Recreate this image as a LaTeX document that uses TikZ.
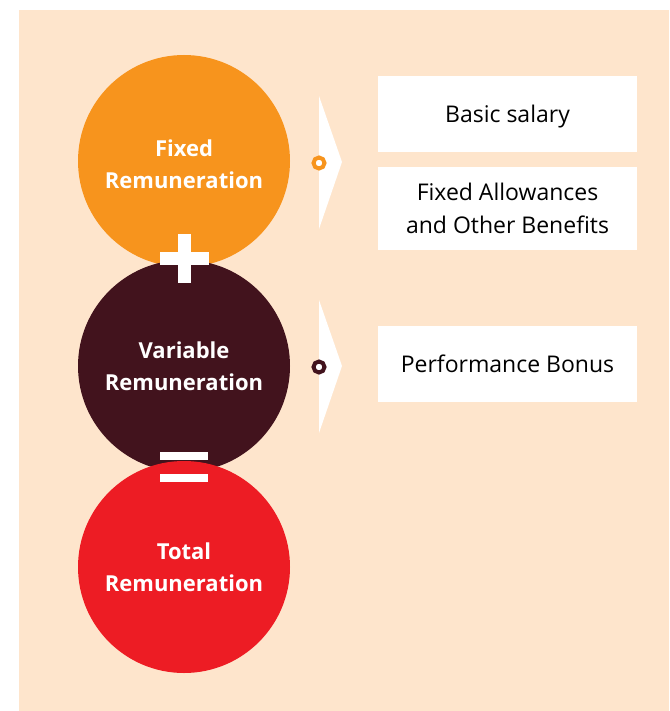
\documentclass[tikz,border=0pt]{standalone}
\usepackage{fontspec}
\setmainfont{Open Sans}
\usepackage{tikz}
\usetikzlibrary{
  positioning,
  calc
}
\definecolor{peach}{HTML}{FEE5CC}
\definecolor{fixedorange}{HTML}{F7941D}
\definecolor{varmaroon}{HTML}{42131D}
\definecolor{totalred}{HTML}{ED1C24}
\tikzset{
  remcircle/.style={circle,minimum size=212pt,inner sep=0pt,align=center,text=white,font=\fontsize{22}{32}\selectfont\bfseries},
  remtext/.style={align=center,text=white,font=\fontsize{22}{32}\selectfont\bfseries},
  itembox/.style={rectangle,fill=white,minimum width=259pt,minimum height=76pt,align=center,inner sep=0pt,font=\fontsize{23}{33}\selectfont},
  ringdot/.style={circle,draw,line width=4pt,fill=white,minimum size=11pt,inner sep=0pt},
  chevron/.style={fill=white},
  signbar/.style={fill=white}
}

\begin{document}
\begin{tikzpicture}[x=1pt,y=-1pt]
    \useasboundingbox (0,0) rectangle (669,711);
    \fill[peach] (19,10) rectangle (669,711);

    % the three circles, drawn top to bottom
    \node[remcircle,fill=fixedorange] (fixed) at (184,161) {};
    \node[remtext] (fixedlbl) at (184,164) {Fixed\\Remuneration};
    \node[remcircle,fill=varmaroon] (variable) at (184,366) {};
    \node[remtext] (variablelbl) at (184,366) {Variable\\Remuneration};
    \node[remcircle,fill=totalred] (total) at (184,567) {};
    \node[remtext] (totallbl) at (184,567) {Total\\Remuneration};

    % plus and equals
    \fill[signbar] (160,252) rectangle (209,265);
    \fill[signbar] (178,234) rectangle (191,283);
    \fill[signbar] (160,452) rectangle (208,460);
    \fill[signbar] (160,474) rectangle (208,482);

    % chevrons with the small rings
    \foreach \y/\id in {162/a,366/b}
        \fill[chevron] (319,\y-66) -- (342,\y) -- (319,\y+67) -- cycle;
    \node[ringdot,draw=fixedorange] (ra) at (319,163) {};
    \node[ringdot,draw=varmaroon] (rb) at (319,367) {};

    % components
    \node[itembox] (basic) at (507.5,114) {};
    \node[font=\fontsize{23}{33}\selectfont] (basiclbl) at (507.5,117) {Basic salary};
    \node[itembox,minimum height=83pt] (allow) at (507.5,208.5) {Fixed Allowances\\and Other Benefits};
    \node[itembox] (bonus) at (507.5,364) {Performance Bonus};
\end{tikzpicture}
\end{document}
